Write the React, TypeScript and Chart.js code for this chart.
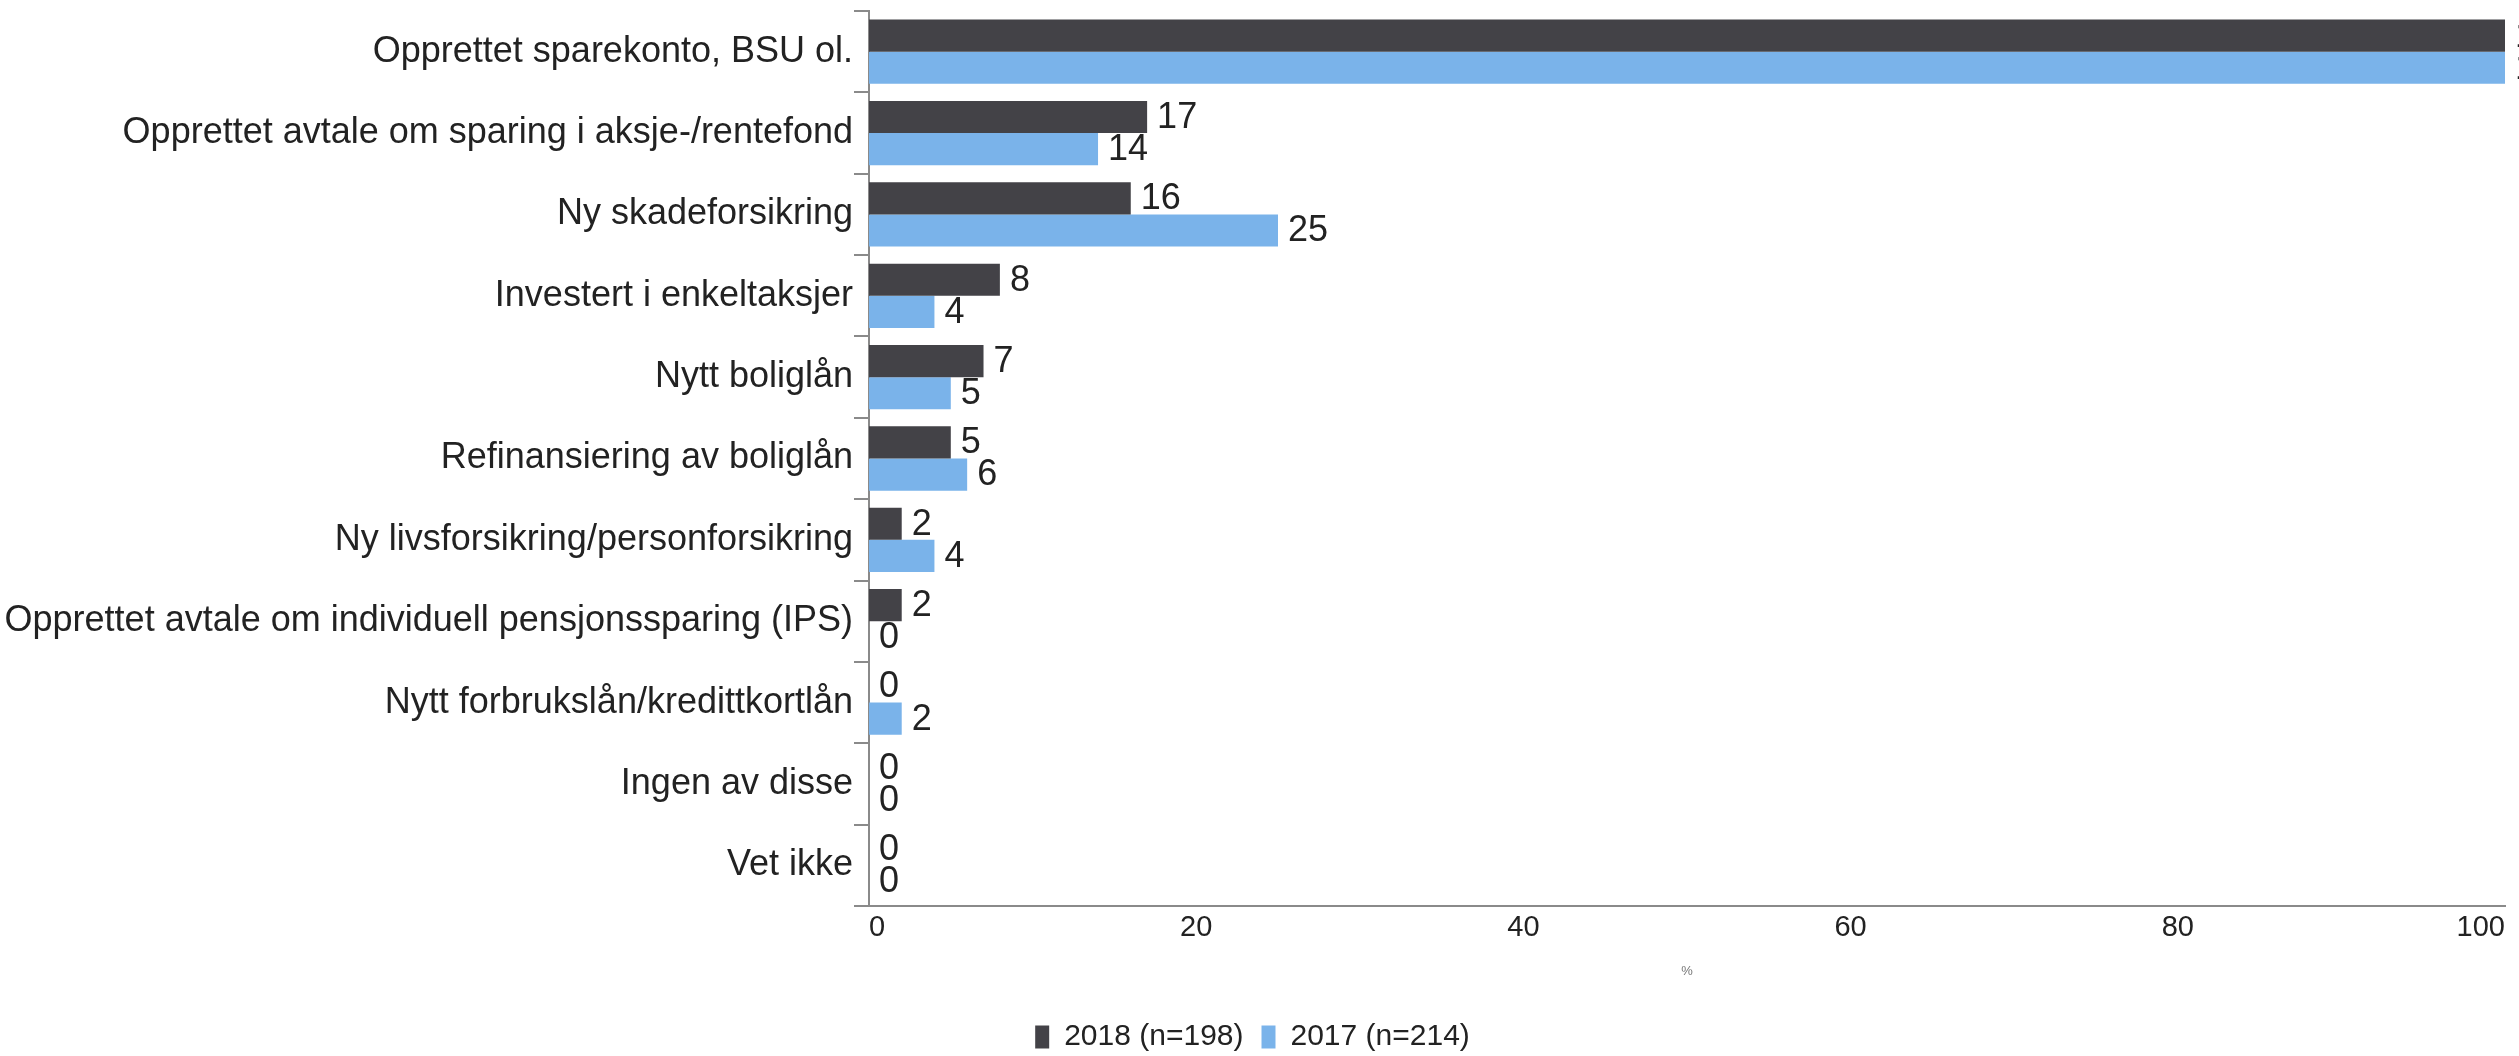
import React, { useEffect, useRef } from "react";
import { Chart, registerables } from "chart.js";

Chart.register(...registerables);

const categories: string[] = [
  "Opprettet sparekonto, BSU ol.",
  "Opprettet avtale om sparing i aksje-/rentefond",
  "Ny skadeforsikring",
  "Investert i enkeltaksjer",
  "Nytt boliglån",
  "Refinansiering av boliglån",
  "Ny livsforsikring/personforsikring",
  "Opprettet avtale om individuell pensjonssparing (IPS)",
  "Nytt forbrukslån/kredittkortlån",
  "Ingen av disse",
  "Vet ikke",
];

const series2018: number[] = [100, 17, 16, 8, 7, 5, 2, 2, 0, 0, 0];
const series2017: number[] = [100, 14, 25, 4, 5, 6, 4, 0, 2, 0, 0];

const seriesLabels: string[] = ["2018 (n=198)", "2017 (n=214)"];
const xTicks: number[] = [0, 20, 40, 60, 80, 100];
const xTitle = "%";

const FONT = '"Liberation Sans", Arial, Helvetica, sans-serif';

const valueLabels = {
  id: "valueLabels",
  afterDatasetsDraw(chart: any) {
    const { ctx } = chart;
    ctx.save();
    ctx.font = `36px ${FONT}`;
    ctx.fillStyle = "#222";
    ctx.textAlign = "left";
    ctx.textBaseline = "middle";
    chart.data.datasets.forEach((ds: any, di: number) => {
      const meta = chart.getDatasetMeta(di);
      meta.data.forEach((bar: any, i: number) => {
        const v = ds.data[i];
        ctx.fillText(String(v), bar.x + 10, bar.y + 1);
      });
    });
    ctx.restore();
  },
};

export default function App() {
  const ref = useRef<HTMLCanvasElement | null>(null);

  useEffect(() => {
    if (!ref.current) return;
    Chart.defaults.font.family = FONT;
    const chart = new Chart(ref.current, {
      type: "bar",
      data: {
        labels: categories,
        datasets: [
          {
            label: seriesLabels[0],
            data: series2018,
            backgroundColor: "#434247",
            borderWidth: 0,
            categoryPercentage: 0.79,
            barPercentage: 1.0,
          },
          {
            label: seriesLabels[1],
            data: series2017,
            backgroundColor: "#7AB3EA",
            borderWidth: 0,
            categoryPercentage: 0.79,
            barPercentage: 1.0,
          },
        ],
      },
      options: {
        indexAxis: "y",
        animation: false,
        responsive: true,
        maintainAspectRatio: false,
        layout: { padding: { left: 0, right: 14, top: 11, bottom: -6 } },
        scales: {
          x: {
            type: "linear",
            min: 0,
            max: 100,
            afterBuildTicks: (scale: any) => {
              scale.ticks = xTicks.map((v) => ({ value: v }));
            },
            afterFit: (scale: any) => {
              scale.height = 98;
              scale.paddingLeft = 0;
              scale.paddingRight = 0;
            },
            grid: { display: false, drawTicks: false },
            border: { display: true, color: "#8a8a8a", width: 2 },
            ticks: {
              align: "inner",
              padding: 5,
              color: "#222",
              font: { size: 29 },
            },
            title: {
              display: true,
              text: xTitle,
              color: "#777",
              font: { size: 13 },
              padding: { top: 0, bottom: 25 },
            },
          },
          y: {
            type: "category",
            afterFit: (scale: any) => {
              scale.width = 869;
              scale.paddingTop = 0;
              scale.paddingBottom = 0;
            },
            grid: {
              display: true,
              drawOnChartArea: false,
              drawTicks: true,
              tickLength: 15,
              color: "#8a8a8a",
              lineWidth: 2,
            },
            border: { display: true, color: "#8a8a8a", width: 2 },
            ticks: {
              padding: 1,
              color: "#222",
              font: { size: 36 },
              autoSkip: false,
            },
          },
        },
        plugins: {
          legend: {
            display: true,
            position: "bottom",
            align: "center",
            labels: {
              boxWidth: 14,
              boxHeight: 23,
              padding: 18,
              color: "#222",
              font: { size: 30 },
            },
          },
          tooltip: { enabled: false },
          title: { display: false },
        },
      },
      plugins: [valueLabels],
    });
    return () => chart.destroy();
  }, []);

  return (
    <div
      style={{
        position: "fixed",
        left: 0,
        top: 0,
        width: "100vw",
        height: "100vh",
        background: "#fff",
      }}
    >
      <canvas ref={ref} />
    </div>
  );
}
